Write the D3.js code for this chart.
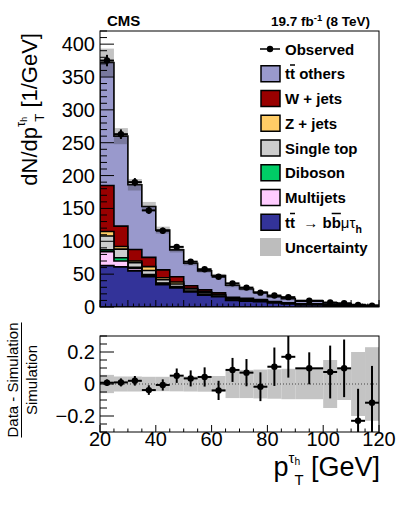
<!DOCTYPE html>
<html>
<head>
<meta charset="utf-8">
<script src="https://cdn.jsdelivr.net/npm/d3@7"></script>
<style>
  html, body { margin: 0; padding: 0; background: #fff; }
  svg text { font-family: "Liberation Sans", Arial, Helvetica, sans-serif; fill: #000; white-space: pre; }
</style>
</head>
<body>
<svg id="chart" width="399" height="505"></svg>
<script>
// bin edges in GeV (one wide bin 90-100)
const binEdges = [20,25,30,35,40,45,50,55,60,65,70,75,80,85,90,100,105,110,115,120]

// stacked simulation, events / GeV (bottom of stack first)
const ttSignal  = [63, 61, 55, 46, 34, 29, 23, 18, 15.5, 10, 9, 8, 6, 4.5, 3.2, 2.3, 1.9, 1.4, 0.9]
const multijets = [21, 9, 3.5, 2, 1.5, 1, 0.5, 0.5, 0.3, 0.3, 0.2, 0.2, 0.1, 0.1, 0.1, 0.05, 0.05, 0.05, 0.03]
const diboson   = [3, 5, 2, 1.5, 1, 1, 0.8, 0.5, 0.5, 0.3, 0.3, 0.2, 0.2, 0.2, 0.1, 0.1, 0.1, 0.05, 0.05]
const singleTop = [21, 13, 7, 6, 5, 4, 3, 2.5, 2, 1.5, 1.3, 1, 0.8, 0.6, 0.5, 0.3, 0.3, 0.2, 0.1]
const zJets     = [7, 4, 2.5, 6, 3, 3, 1, 1.5, 0.7, 0.5, 0.5, 0.3, 0.3, 0.2, 0.2, 0.1, 0.1, 0.1, 0.05]
const wJets     = [70, 31, 17.5, 14, 12, 8, 4, 3, 2.5, 2, 2, 1.5, 1, 0.8, 0.6, 0.5, 0.4, 0.3, 0.2]
const ttOthers  = [187, 137, 98.5, 77.5, 60.5, 41, 34.2, 29, 26.5, 18.4, 14.2, 11, 7.4, 6.4, 4, 2.95, 2.25, 1.8, 1.07]

// relative systematic uncertainty of the simulation
const relUnc = [0.057, 0.047, 0.047, 0.045, 0.045, 0.046, 0.047, 0.048, 0.05, 0.088, 0.088, 0.09, 0.092, 0.095, 0.095, 0.15, 0.1, 0.2, 0.23]

// observed data
const observed = [375, 263, 190, 147, 116, 91.5, 69, 57.5, 46, 36, 29.5, 21.8, 17.5, 15, 9.6, 6.8, 5.6, 3.0, 2.1]
const obsErr   = [8.7, 7.3, 6.2, 5.4, 4.8, 4.3, 3.7, 3.4, 3.0, 2.7, 2.4, 2.1, 1.9, 1.7, 1.0, 1.2, 1.1, 0.8, 0.65]

// (data - sim) / sim
const ratio    = [0.008, 0.01, 0.02, -0.038, -0.006, 0.052, 0.035, 0.044, -0.04, 0.088, 0.071, -0.017, 0.108, 0.17, 0.098, 0.075, 0.098, -0.23, -0.117]
const ratioErr = [0.02, 0.025, 0.03, 0.03, 0.035, 0.045, 0.05, 0.06, 0.06, 0.075, 0.085, 0.09, 0.12, 0.13, 0.1, 0.165, 0.18, 0.2, 0.23]

const yTicksTop = [0, 50, 100, 150, 200, 250, 300, 350, 400]
const yTicksRatio = [-0.2, 0, 0.2]
const xTicks = [20, 40, 60, 80, 100, 120]

const layers = [
  {name: "ttsig",  vals: ttSignal,  color: "#333399"},
  {name: "qcd",    vals: multijets, color: "#ffccff"},
  {name: "vv",     vals: diboson,   color: "#00cc66"},
  {name: "st",     vals: singleTop, color: "#cccccc"},
  {name: "z",      vals: zJets,     color: "#ffcc66"},
  {name: "w",      vals: wJets,     color: "#990000"},
  {name: "ttoth",  vals: ttOthers,  color: "#9999cc"},
]

const svg = d3.select("#chart")

// panel geometry
const L = 100, R = 379
const pTop = {y0: 31, y1: 307}
const pBot = {y0: 336, y1: 432}

const x = d3.scaleLinear().domain([20, 120]).range([L, R])
const y = d3.scaleLinear().domain([0, 420]).range([pTop.y1, pTop.y0])
const yr = d3.scaleLinear().domain([-0.3, 0.3]).range([pBot.y1, pBot.y0])

const bins = d3.range(binEdges.length - 1).map(i => ({i, lo: binEdges[i], hi: binEdges[i+1]}))

// cumulative stack
let cum = bins.map(_ => 0)
layers.forEach(l => {
  cum = cum.map((c, i) => c + l.vals[i])
  l.cum = cum.slice()
})
const total = cum

const defs = svg.append("defs")
defs.append("clipPath").attr("id", "clipTop").append("rect")
  .attr("x", L).attr("y", pTop.y0).attr("width", R - L).attr("height", pTop.y1 - pTop.y0)
defs.append("clipPath").attr("id", "clipBot").append("rect")
  .attr("x", L).attr("y", pBot.y0).attr("width", R - L).attr("height", pBot.y1 - pBot.y0)

//step polygon for a cumulative histogram
let stepPath = (vals) => {
  let p = "M" + x(binEdges[0]) + "," + y(0)
  bins.forEach(b => {
    p += "L" + x(b.lo) + "," + y(vals[b.i]) + "L" + x(b.hi) + "," + y(vals[b.i])
  })
  return p + "L" + x(binEdges[binEdges.length-1]) + "," + y(0) + "Z"
}

const gTop = svg.append("g").attr("clip-path", "url(#clipTop)")
//draw from the top of the stack down
layers.slice().reverse().forEach(l => {
  gTop.append("path").attr("d", stepPath(l.cum))
    .attr("fill", l.color).attr("stroke", "#000").attr("stroke-width", 1.6)
    .attr("stroke-linejoin", "miter")
})

// uncertainty band on the stack
gTop.selectAll("rect.unc").data(bins).enter().append("rect")
  .attr("x", d => x(d.lo)).attr("width", d => x(d.hi) - x(d.lo))
  .attr("y", d => y(total[d.i] * (1 + relUnc[d.i])))
  .attr("height", d => y(total[d.i] * (1 - relUnc[d.i])) - y(total[d.i] * (1 + relUnc[d.i])))
  .attr("fill", "#282828").attr("fill-opacity", 0.28)

// observed points
let drawPoints = (g, yScale, vals, errs) => {
  g.selectAll("line.ex").data(bins).enter().append("line")
    .attr("x1", d => x(d.lo)).attr("x2", d => x(d.hi))
    .attr("y1", d => yScale(vals[d.i])).attr("y2", d => yScale(vals[d.i]))
    .attr("stroke", "#000").attr("stroke-width", 2)
  g.selectAll("line.ey").data(bins).enter().append("line")
    .attr("x1", d => x((d.lo + d.hi) / 2)).attr("x2", d => x((d.lo + d.hi) / 2))
    .attr("y1", d => yScale(vals[d.i] - errs[d.i])).attr("y2", d => yScale(vals[d.i] + errs[d.i]))
    .attr("stroke", "#000").attr("stroke-width", 2)
  g.selectAll("circle").data(bins).enter().append("circle")
    .attr("cx", d => x((d.lo + d.hi) / 2)).attr("cy", d => yScale(vals[d.i]))
    .attr("r", 3.2).attr("fill", "#000")
}
drawPoints(gTop.append("g"), y, observed, obsErr)

// ratio panel
const gBot = svg.append("g").attr("clip-path", "url(#clipBot)")
gBot.selectAll("rect").data(bins).enter().append("rect")
  .attr("x", d => x(d.lo)).attr("width", d => x(d.hi) - x(d.lo))
  .attr("y", d => yr(relUnc[d.i])).attr("height", d => yr(-relUnc[d.i]) - yr(relUnc[d.i]))
  .attr("fill", "#c4c4c4")
gBot.append("line").attr("x1", L).attr("x2", R).attr("y1", yr(0)).attr("y2", yr(0))
  .attr("stroke", "#444").attr("stroke-width", 1).attr("stroke-dasharray", "1,2")
drawPoints(gBot.append("g"), yr, ratio, ratioErr)

// frames
;[pTop, pBot].forEach(p => {
  svg.append("rect").attr("x", L).attr("y", p.y0).attr("width", R - L).attr("height", p.y1 - p.y0)
    .attr("fill", "none").attr("stroke", "#000").attr("stroke-width", 1)
})

// ticks (inside, ROOT style)
let tick = (x1, y1, x2, y2) => svg.append("line").attr("x1", x1).attr("y1", y1).attr("x2", x2).attr("y2", y2)
  .attr("stroke", "#000").attr("stroke-width", 1)

d3.range(0, 421, 10).forEach(v => {
  let len = v % 50 === 0 ? 14 : 7
  tick(L, y(v), L + len, y(v))
})
d3.range(20, 121, 2).forEach(v => {
  let len = v % 10 === 0 ? 7 : 3.5
  tick(x(v), pTop.y1, x(v), pTop.y1 - len)
})
d3.range(-6, 7).forEach(k => {
  let v = k * 0.05
  let len = k % 4 === 0 ? 14 : 7
  tick(L, yr(v), L + len, yr(v))
})
d3.range(20, 121, 5).forEach(v => {
  let len = v % 20 === 0 ? 7 : 3.5
  tick(x(v), pBot.y1, x(v), pBot.y1 - len)
})

// tick labels
svg.selectAll("text.yt").data(yTicksTop).enter().append("text")
  .attr("x", L - 5).attr("y", d => y(d) + 7).attr("text-anchor", "end")
  .attr("font-size", 20).text(d => d)
svg.selectAll("text.yr").data(yTicksRatio).enter().append("text")
  .attr("x", L - 5).attr("y", d => yr(d) + 7).attr("text-anchor", "end")
  .attr("font-size", 20).text(d => d === 0 ? "0" : (d < 0 ? "\u22120.2" : "0.2"))
svg.selectAll("text.xt").data(xTicks).enter().append("text")
  .attr("x", d => x(d)).attr("y", 446).attr("text-anchor", "middle")
  .attr("font-size", 20).text(d => d)

//rich text: pieces laid out left to right, returns width
let rich = (g, parts, size, weight) => {
  let cx = 0, lastStart = 0, maxX = 0
  parts.forEach(p => {
    if (p.back) cx = lastStart
    const t = g.append("text").attr("x", cx).attr("y", (p.dy || 0) * size)
      .attr("font-size", size * (p.s || 1)).attr("font-weight", p.w || weight)
      .text(p.t)
    if (p.over) t.style("text-decoration", "overline")
    const w = t.node().getComputedTextLength()
    lastStart = cx
    cx += w + (p.gap || 0)
    maxX = Math.max(maxX, cx)
    if (p.back) cx = maxX
  })
  return maxX
}

// y title (rotated)
{
  const g = svg.append("g").attr("transform", "translate(37,33) rotate(-90)")
  const inner = g.append("g")
  const w = rich(inner, [
    {t: "dN/dp"},
    {t: "\u03c4", s: 0.6, dy: -0.55},
    {t: "h", s: 0.4, dy: -0.45},
    {t: "T", s: 0.6, dy: 0.3, back: true},
    {t: " [1/GeV]"},
  ], 22, "normal")
  inner.attr("transform", `translate(${-w},0)`)
}

// x title
{
  const g = svg.append("g").attr("transform", "translate(380,476)")
  const inner = g.append("g")
  const w = rich(inner, [
    {t: "p"},
    {t: "\u03c4", s: 0.55, dy: -0.5},
    {t: "h", s: 0.38, dy: -0.42},
    {t: "T", s: 0.55, dy: 0.35, back: true},
    {t: " [GeV]"},
  ], 27, "normal")
  inner.attr("transform", `translate(${-w},0)`)
}

// ratio y title
{
  const g = svg.append("g").attr("transform", "translate(0,380) rotate(-90)")
  const num = g.append("text").attr("x", 0).attr("y", 18).attr("text-anchor", "middle")
    .attr("font-size", 15).text("Data - Simulation")
  const wN = num.node().getComputedTextLength()
  g.append("line").attr("x1", -wN / 2).attr("x2", wN / 2).attr("y1", 21.5).attr("y2", 21.5)
    .attr("stroke", "#000").attr("stroke-width", 1)
  g.append("text").attr("x", 0).attr("y", 37).attr("text-anchor", "middle")
    .attr("font-size", 15).text("Simulation")
}

// header
svg.append("text").attr("x", 107).attr("y", 26).attr("font-size", 15).attr("font-weight", "bold").text("CMS")
{
  const g = svg.append("g").attr("transform", "translate(370,26)")
  const inner = g.append("g")
  const w = rich(inner, [
    {t: "19.7 fb"},
    {t: "-1", s: 0.7, dy: -0.4},
    {t: " (8 TeV)"},
  ], 13.5, "bold")
  inner.attr("transform", `translate(${-w},0)`)
}

// legend
const legendItems = [
  {type: "obs", parts: [{t: "Observed"}]},
  {type: "box", color: "#9999cc", parts: [{t: "t"}, {t: "t", over: true}, {t: " others"}]},
  {type: "box", color: "#990000", parts: [{t: "W + jets"}]},
  {type: "box", color: "#ffcc66", parts: [{t: "Z + jets"}]},
  {type: "box", color: "#cccccc", parts: [{t: "Single top"}]},
  {type: "box", color: "#00cc66", parts: [{t: "Diboson"}]},
  {type: "box", color: "#ffccff", parts: [{t: "Multijets"}]},
  {type: "box", color: "#333399", parts: [{t: "t"}, {t: "t", over: true}, {t: "  \u2192 ", w: "normal"},
      {t: "b"}, {t: "b", over: true}, {t: "\u03bc\u03c4", w: "normal"}, {t: "h", s: 0.7, dy: 0.35}]},
  {type: "unc", parts: [{t: "Uncertainty"}]},
]
legendItems.forEach((it, k) => {
  const cy = 49 + k * 24.75
  const g = svg.append("g")
  if (it.type === "obs") {
    g.append("line").attr("x1", 260).attr("x2", 280).attr("y1", cy).attr("y2", cy)
      .attr("stroke", "#000").attr("stroke-width", 1.5)
    g.append("circle").attr("cx", 270).attr("cy", cy).attr("r", 3.2).attr("fill", "#000")
  } else if (it.type === "box") {
    g.append("rect").attr("x", 261).attr("y", cy - 8).attr("width", 19).attr("height", 16)
      .attr("fill", it.color).attr("stroke", "#000").attr("stroke-width", 1.5)
  } else {
    g.append("rect").attr("x", 260).attr("y", cy - 9).attr("width", 21).attr("height", 18)
      .attr("fill", "#bdbdbd")
  }
  const tg = g.append("g").attr("transform", `translate(285,${cy + 5.5})`)
  rich(tg, it.parts, 15, "bold")
})
</script>
</body>
</html>
